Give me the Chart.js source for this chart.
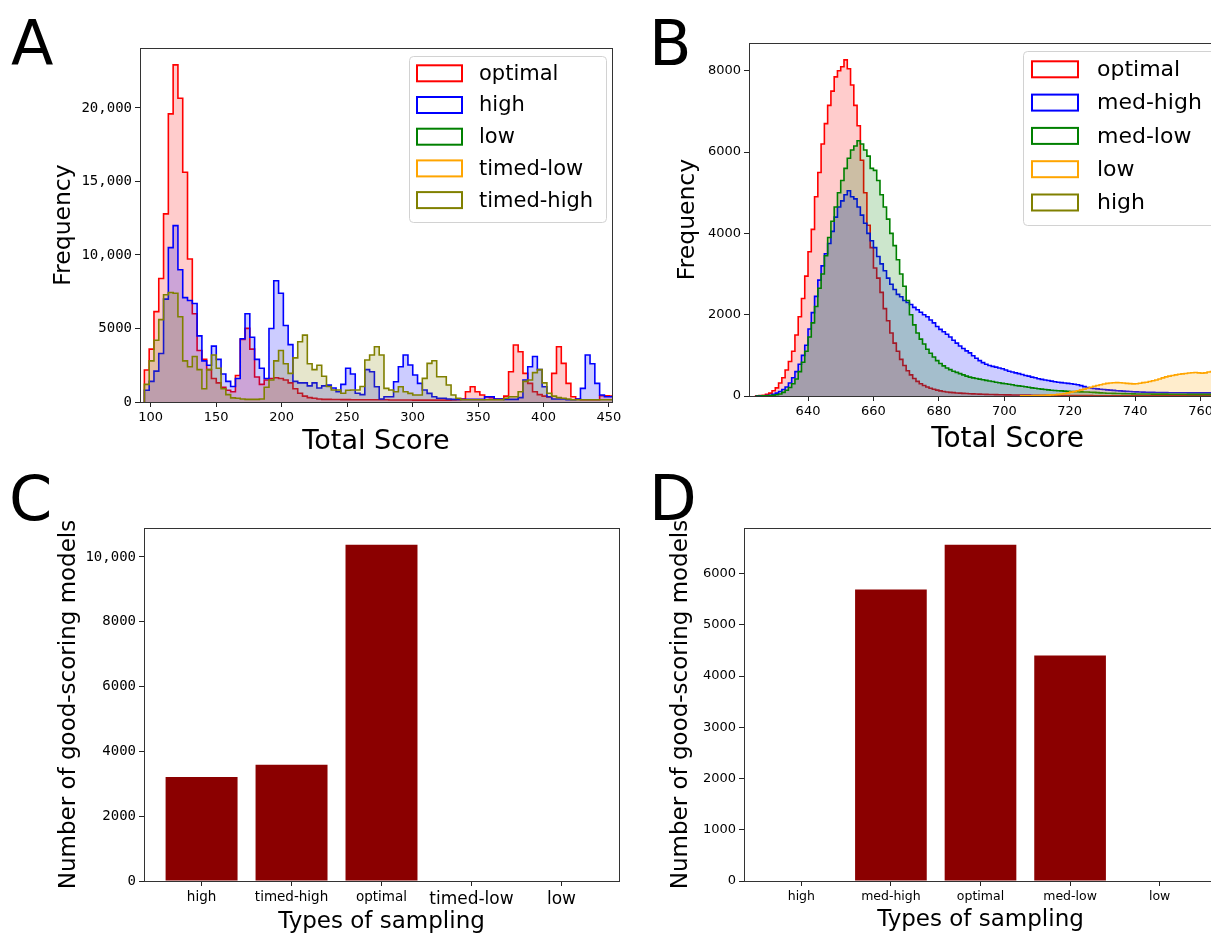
<!DOCTYPE html>
<html>
<head>
<meta charset="utf-8">
<title>Total score histograms and good-scoring models</title>
<script src="https://cdn.jsdelivr.net/npm/chart.js@4.4.1/dist/chart.umd.min.js"></script>
<style>
  html, body { margin:0; padding:0; background:#fff; }
  body { width:1211px; height:936px; overflow:hidden; position:relative; font-family:"DejaVu Sans", sans-serif; }
  canvas { position:absolute; display:block; }
  .letter { position:absolute; z-index:5; font-family:"DejaVu Sans"; font-size:62px; line-height:62px; color:#000; }
</style>
</head>
<body>
<canvas id="chartA" width="640" height="460" style="left:0; top:0;"></canvas>
<canvas id="chartB" width="660" height="460" style="left:640px; top:0;"></canvas>
<canvas id="chartC" width="640" height="476" style="left:0; top:460px;"></canvas>
<canvas id="chartD" width="660" height="476" style="left:640px; top:460px;"></canvas>
<div class="letter" style="left:11px; top:13px;">A</div>
<div class="letter" style="left:649px; top:13px;">B</div>
<div class="letter" style="left:9px; top:468px;">C</div>
<div class="letter" style="left:649px; top:468px;">D</div>
<script>
// ---------------- DATA ----------------
// Panel A: histogram of total score (common bins)
const A_binStart = 95.15;
const A_binWidth = 3.66;
const A_labels = ['optimal', 'high', 'low', 'timed-low', 'timed-high'];
const A_optimal = [
  2180, 3600, 6150, 8400, 12800, 19600, 22930, 20660, 15630, 9730,
  6000, 3500, 2900, 2200, 1600, 1300, 1000, 800, 700, 1800,
  4260, 5010, 3600, 1700, 1200, 1500, 1600, 1650, 1600, 1500,
  1300, 900, 600, 400, 300, 250, 200, 180, 180, 170,
  170, 160, 160, 150, 150, 150, 150, 150, 150, 150,
  150, 140, 140, 140, 140, 140, 130, 130, 130, 130,
  130, 130, 130, 130, 140, 150, 200, 700, 1040, 700,
  480, 350, 300, 200, 200, 400, 2060, 3880, 3420, 1950,
  1270, 700, 500, 400, 350, 1950, 3760, 2630, 1270, 360,
  200, 150, 150, 150, 150, 430, 430, 400
];
const A_high = [
  800, 1400, 2100, 3300, 7000, 10500, 12000, 9000, 7100, 6900,
  6700, 4500, 2800, 2500, 3800, 2900, 1900, 1400, 1050, 1600,
  4300, 6000, 4400, 2900, 2300, 1600, 5000, 8250, 7400, 5200,
  3900, 1400, 1300, 1300, 1100, 1300, 950, 1100, 1150, 950,
  700, 1200, 2300, 1900, 600, 500, 2200, 2060, 1040, 200,
  360, 360, 1380, 2400, 3200, 2520, 1840, 1270, 820, 590,
  360, 250, 250, 200, 180, 180, 180, 180, 180, 180,
  180, 360, 360, 200, 200, 180, 180, 180, 300, 1500,
  2400, 3100, 2200, 1040, 360, 200, 200, 200, 150, 150,
  200, 930, 3200, 2600, 1270, 480, 360, 360
];
const A_low = [];       // no counts inside the plotted range
const A_timedLow = [];  // no counts inside the plotted range
const A_timedHigh = [
  1200, 2800, 4200, 5600, 7300, 7450, 7400, 5800, 2800, 2400,
  3100, 2200, 900, 2200, 3200, 2300, 900, 500, 280, 250,
  200, 180, 180, 180, 200, 1000, 1500, 2800, 3500, 2600,
  1950, 3000, 4100, 4550, 2600, 2200, 2500, 1750, 1050, 820,
  820, 600, 800, 820, 820, 1050, 2860, 3200, 3760, 3200,
  930, 820, 700, 1040, 700, 590, 480, 480, 1610, 2630,
  2810, 1720, 1720, 1160, 480, 250, 150, 150, 150, 150,
  150, 150, 150, 150, 150, 250, 360, 360, 700, 1400,
  1500, 2000, 2200, 1300, 600, 400, 300, 250, 200, 150,
  150, 150, 150, 150, 150, 150, 150, 150
];
const A_xTicks = [100, 150, 200, 250, 300, 350, 400, 450];
const A_yTicks = [0, 5000, 10000, 15000, 20000];

// Panel B: histogram of total score (1-unit bins)
const B_binWidth = 1;
const B_labels = ['optimal', 'med-high', 'med-low', 'low', 'high'];
const B_optimalStart = 624;
const B_optimal = [
  5, 10, 20, 40, 70, 130, 200, 320, 450, 640,
  850, 1100, 1500, 1950, 2400, 2950, 3550, 4100, 4900, 5500,
  6200, 6700, 7150, 7500, 7850, 8000, 8100, 8270, 8050, 7650,
  7150, 6650, 5800, 5000, 4200, 3650, 3150, 2900, 2550, 2150,
  1850, 1550, 1300, 1100, 900, 750, 620, 520, 430, 360,
  300, 260, 220, 190, 165, 145, 125, 110, 100, 90,
  82, 75, 70, 65, 60, 56, 52, 48, 45, 42,
  40, 38, 36, 34, 32, 30, 28, 27, 26, 25,
  24, 23, 22, 21, 20, 19, 18, 17, 16, 15,
  14, 13, 12, 12, 11, 11, 10, 10, 9, 9,
  8, 8, 8, 7, 7, 7, 6, 6, 6, 6,
  5, 5, 5, 5, 5, 4, 4, 4, 4, 4,
  3, 3, 3, 3, 3, 3, 3, 2, 2, 2,
  2, 2, 2, 2, 2, 2, 2, 2, 2, 2
];
const B_medHighStart = 624;
const B_medHigh = [
  0, 2, 5, 10, 20, 40, 70, 110, 160, 220,
  320, 450, 600, 780, 1000, 1250, 1650, 2050, 2450, 2850,
  3200, 3500, 3750, 4050, 4400, 4650, 4800, 4950, 5050, 4900,
  4850, 4650, 4450, 4250, 4000, 3820, 3650, 3430, 3250, 3080,
  2900, 2750, 2620, 2500, 2440, 2350, 2300, 2250, 2180, 2120,
  2060, 2000, 1950, 1870, 1800, 1710, 1640, 1580, 1520, 1450,
  1370, 1300, 1230, 1170, 1110, 1060, 990, 930, 870, 820,
  780, 750, 730, 710, 690, 670, 640, 610, 590, 570,
  550, 530, 505, 490, 465, 450, 425, 410, 395, 380,
  365, 350, 340, 330, 320, 310, 300, 290, 275, 255,
  230, 210, 195, 185, 175, 165, 160, 150, 145, 138,
  130, 125, 120, 115, 110, 106, 102, 98, 95, 92,
  90, 88, 86, 85, 84, 82, 81, 80, 80, 80,
  79, 79, 78, 78, 78, 77, 77, 76, 76, 75
];
const B_medLowStart = 624;
const B_medLow = [
  0, 0, 2, 5, 10, 18, 30, 50, 90, 140,
  210, 300, 420, 600, 830, 1100, 1450, 1800, 2200, 2650,
  3000, 3450, 3900, 4300, 4650, 5000, 5300, 5600, 5850, 6050,
  6150, 6280, 6200, 6050, 5900, 5600, 5550, 5300, 4950, 4650,
  4350, 4000, 3700, 3350, 3000, 2700, 2350, 2000, 1750, 1550,
  1400, 1280, 1150, 1050, 960, 870, 800, 740, 690, 650,
  610, 580, 550, 520, 490, 465, 445, 430, 415, 400,
  385, 370, 355, 340, 325, 310, 300, 290, 275, 260,
  250, 240, 228, 215, 200, 190, 180, 170, 160, 150,
  143, 136, 130, 125, 120, 115, 112, 108, 105, 102,
  100, 97, 93, 88, 82, 77, 72, 68, 66, 64,
  62, 60, 58, 56, 54, 52, 50, 50, 49, 48,
  48, 47, 46, 46, 45, 45, 44, 44, 43, 43,
  42, 42, 41, 41, 40, 40, 40, 39, 39, 38
];
const B_lowStart = 705;
const B_low = [
  2, 3, 5, 7, 9, 12, 15, 18, 22, 27,
  32, 40, 50, 62, 78, 95, 110, 130, 150, 170,
  190, 215, 240, 260, 275, 295, 310, 320, 325, 330,
  325, 318, 310, 305, 298, 300, 315, 330, 340, 355,
  375, 395, 420, 445, 470, 490, 505, 520, 535, 545,
  555, 565, 572, 578, 570, 562, 570, 590, 600
];
const B_highStart = 780;
const B_high = [];      // no counts inside the plotted range
const B_xTicks = [640, 660, 680, 700, 720, 740, 760];
const B_yTicks = [0, 2000, 4000, 6000, 8000];

// Panel C: good-scoring models
const C_categories = ['high', 'timed-high', 'optimal', 'timed-low', 'low'];
const C_values = [3210, 3590, 10380, 0, 0];
const C_yTicks = [0, 2000, 4000, 6000, 8000, 10000];

// Panel D: good-scoring models
const D_categories = ['high', 'med-high', 'optimal', 'med-low', 'low'];
const D_values = [0, 5690, 6560, 4400, 0];
const D_yTicks = [0, 1000, 2000, 3000, 4000, 5000, 6000];

// ---------------- STYLE / HELPERS ----------------
const FONT = '"DejaVu Sans", sans-serif';
const MONO = '"DejaVu Sans Mono", monospace';
Chart.defaults.font.family = FONT;
Chart.defaults.color = '#000';

const histColors = { red:'#ff0000', blue:'#0000ff', green:'#008000', orange:'#ffa500', olive:'#808000' };
const fillOf = c => {
  const n = parseInt(c.slice(1), 16);
  return `rgba(${(n>>16)&255},${(n>>8)&255},${n&255},0.2)`;
};

function histPoints(start, width, counts) {
  if (!counts.length) return [];
  const pts = [{x:start, y:0}];
  counts.forEach((c, i) => pts.push({x: start + i*width, y: c}));
  pts.push({x: start + counts.length*width, y: 0});
  return pts;
}

function histDataset(label, pts, color, order) {
  return {
    label, data: pts, borderColor: color, backgroundColor: fillOf(color),
    borderWidth: 1.6, fill: 'origin', stepped: true, pointRadius: 0,
    pointHoverRadius: 0, tension: 0, order
  };
}

const commaFmt = v => v >= 10000 ? v.toLocaleString('en-US') : String(v);

function axis(o) {
  return {
    type: 'linear', min: o.min, max: o.max, offset: false,
    afterFit: s => { if (s.isHorizontal()) s.height = o.size; else s.width = o.size; },
    afterBuildTicks: s => { s.ticks = o.ticks.map(v => ({value: v})); },
    ticks: {
      font: o.tickFont, color: '#000', padding: 3, autoSkip: false,
      maxRotation: 0, minRotation: 0, callback: o.fmt || (v => String(v))
    },
    grid: { display: true, drawOnChartArea: false, drawTicks: true, tickLength: 5,
            color: '#222', lineWidth: 1, offset: false },
    border: { display: false },
    title: { display: true, text: o.title, font: o.titleFont, color: '#000', padding: o.titlePad }
  };
}

const framePlugin = {
  id: 'frame',
  afterDraw(chart) {
    const {ctx, chartArea: a} = chart;
    ctx.save();
    ctx.strokeStyle = '#333';
    ctx.lineWidth = 1;
    ctx.strokeRect(Math.round(a.left) + 0.5, Math.round(a.top) + 0.5,
                   Math.round(a.right - a.left), Math.round(a.bottom - a.top));
    ctx.restore();
  }
};

function boxLegend(cfg) {
  return {
    id: 'boxLegend',
    afterDraw(chart) {
      const ctx = chart.ctx;
      ctx.save();
      ctx.beginPath();
      ctx.roundRect(cfg.x + 0.5, cfg.y + 0.5, cfg.w, cfg.h, 4);
      ctx.fillStyle = 'rgba(255,255,255,0.8)';
      ctx.fill();
      ctx.strokeStyle = '#d2d2d2';
      ctx.lineWidth = 1;
      ctx.stroke();
      ctx.font = cfg.fontSize + 'px ' + FONT;
      ctx.textBaseline = 'middle';
      ctx.textAlign = 'left';
      cfg.labels.forEach((lab, i) => {
        const cy = cfg.firstY + i * cfg.gap;
        ctx.fillStyle = '#fff';
        ctx.fillRect(cfg.swX, cy - cfg.swH/2, cfg.swW, cfg.swH);
        ctx.strokeStyle = cfg.colors[i];
        ctx.lineWidth = 2;
        ctx.strokeRect(cfg.swX, cy - cfg.swH/2, cfg.swW, cfg.swH);
        ctx.fillStyle = '#000';
        ctx.fillText(lab, cfg.textX, cy + 1);
      });
      ctx.restore();
    }
  };
}

const baseOpts = {
  responsive: false, devicePixelRatio: 1, animation: false, events: [],
};

// ---------------- PANEL A ----------------
const A_colors = [histColors.red, histColors.blue, histColors.green, histColors.orange, histColors.olive];
const A_series = [A_optimal, A_high, A_low, A_timedLow, A_timedHigh];
new Chart(document.getElementById('chartA'), {
  type: 'line',
  data: {
    datasets: A_series.map((s, i) =>
      histDataset(A_labels[i], histPoints(A_binStart, A_binWidth, s), A_colors[i], A_series.length - 1 - i))
  },
  options: Object.assign({}, baseOpts, {
    layout: { padding: { left: 0, right: 28, top: 48, bottom: 0 } },
    plugins: { legend: { display: false }, tooltip: { enabled: false } },
    scales: {
      x: axis({ min: 91.8, max: 452.3, size: 58, ticks: A_xTicks,
                tickFont: { family: FONT, size: 13 }, title: 'Total Score',
                titleFont: { family: FONT, size: 27 }, titlePad: { top: 0, bottom: 2 } }),
      y: axis({ min: 0, max: 24080, size: 140, ticks: A_yTicks, fmt: commaFmt,
                tickFont: { family: MONO, size: 14 }, title: 'Frequency',
                titleFont: { family: FONT, size: 23.5 }, titlePad: { top: 50, bottom: 0 } })
    }
  }),
  plugins: [framePlugin, boxLegend({
    x: 409, y: 56, w: 197, h: 166, swX: 417, swW: 45, swH: 16, textX: 479,
    firstY: 73.3, gap: 31.7, fontSize: 21, labels: A_labels, colors: A_colors
  })]
});

// ---------------- PANEL B ----------------
const B_colors = [histColors.red, histColors.blue, histColors.green, histColors.orange, histColors.olive];
const B_series = [
  histPoints(B_optimalStart, B_binWidth, B_optimal),
  histPoints(B_medHighStart, B_binWidth, B_medHigh),
  histPoints(B_medLowStart, B_binWidth, B_medLow),
  histPoints(B_lowStart, B_binWidth, B_low),
  histPoints(B_highStart, B_binWidth, B_high)
];
new Chart(document.getElementById('chartB'), {
  type: 'line',
  data: {
    datasets: B_series.map((pts, i) =>
      histDataset(B_labels[i], pts, B_colors[i], B_series.length - 1 - i))
  },
  options: Object.assign({}, baseOpts, {
    layout: { padding: { left: 0, right: 34, top: 43, bottom: 0 } },
    plugins: { legend: { display: false }, tooltip: { enabled: false } },
    scales: {
      x: axis({ min: 621.96, max: 780, size: 64, ticks: B_xTicks,
                tickFont: { family: FONT, size: 13 }, title: 'Total Score',
                titleFont: { family: FONT, size: 28 }, titlePad: { top: 0, bottom: 3 } }),
      y: axis({ min: 0, max: 8684, size: 109, ticks: B_yTicks,
                tickFont: { family: FONT, size: 13 }, title: 'Frequency',
                titleFont: { family: FONT, size: 23.5 }, titlePad: { top: 34, bottom: 0 } })
    }
  }),
  plugins: [framePlugin, boxLegend({
    x: 383, y: 51, w: 205, h: 174, swX: 392, swW: 46, swH: 16, textX: 457,
    firstY: 69.3, gap: 33.3, fontSize: 22, labels: B_labels, colors: B_colors
  })]
});

// ---------------- PANEL C ----------------
new Chart(document.getElementById('chartC'), {
  type: 'bar',
  data: {
    datasets: [{
      label: 'good-scoring models',
      data: C_values.map((v, i) => ({x: i, y: v})),
      backgroundColor: '#8b0000', borderWidth: 0,
      barPercentage: 1.0, categoryPercentage: 0.8
    }]
  },
  options: Object.assign({}, baseOpts, {
    layout: { padding: { left: 0, right: 21, top: 68, bottom: 0 } },
    plugins: { legend: { display: false }, tooltip: { enabled: false } },
    scales: {
      x: axis({ min: -0.64, max: 4.64, size: 55, ticks: [0, 1, 2, 3, 4],
                fmt: v => C_categories[v],
                tickFont: ctx => ({ family: FONT, size: ctx.index >= 3 ? 17 : 13.5 }),
                title: 'Types of sampling',
                titleFont: { family: FONT, size: 23 }, titlePad: { top: 0, bottom: 0 } }),
      y: axis({ min: 0, max: 10895, size: 144, ticks: C_yTicks, fmt: commaFmt,
                tickFont: { family: MONO, size: 14 }, title: 'Number of good-scoring models',
                titleFont: { family: FONT, size: 23 }, titlePad: { top: 55, bottom: 0 } })
    }
  }),
  plugins: [framePlugin]
});

// ---------------- PANEL D ----------------
new Chart(document.getElementById('chartD'), {
  type: 'bar',
  data: {
    datasets: [{
      label: 'good-scoring models',
      data: D_values.map((v, i) => ({x: i, y: v})),
      backgroundColor: '#8b0000', borderWidth: 0,
      barPercentage: 1.0, categoryPercentage: 0.8
    }]
  },
  options: Object.assign({}, baseOpts, {
    layout: { padding: { left: 0, right: 83, top: 68, bottom: 0 } },
    plugins: { legend: { display: false }, tooltip: { enabled: false } },
    scales: {
      x: axis({ min: -0.64, max: 4.64, size: 55, ticks: [0, 1, 2, 3, 4],
                fmt: v => D_categories[v],
                tickFont: { family: FONT, size: 12.5 },
                title: 'Types of sampling',
                titleFont: { family: FONT, size: 23 }, titlePad: { top: 0, bottom: 2 } }),
      y: axis({ min: 0, max: 6888, size: 104, ticks: D_yTicks,
                tickFont: { family: FONT, size: 13 }, title: 'Number of good-scoring models',
                titleFont: { family: FONT, size: 23 }, titlePad: { top: 27, bottom: 0 } })
    }
  }),
  plugins: [framePlugin]
});
</script>
</body>
</html>
